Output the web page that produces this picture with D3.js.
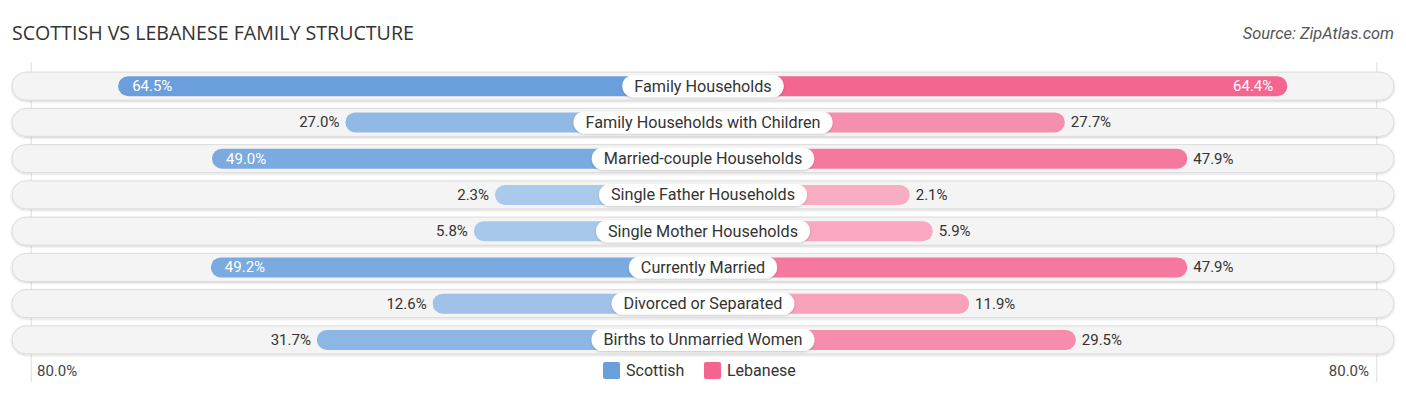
<!DOCTYPE html>
<html lang="en">
<head>
  <meta charset="utf-8">
  <title>Scottish vs Lebanese Family Structure</title>
  <script src="https://d3js.org/d3.v7.min.js"></script>
  <style>
    body {
      margin: 0;
      background: #fff;
      font-family: Roboto, "Noto Sans", Arial, sans-serif;
    }
    svg { display: block; }
  </style>
</head>
<body>
  <svg id="chart" width="1406" height="395"></svg>

  <script>
    // data
    const categories = [
      "Family Households",
      "Family Households with Children",
      "Married-couple Households",
      "Single Father Households",
      "Single Mother Households",
      "Currently Married",
      "Divorced or Separated",
      "Births to Unmarried Women"
    ];
    const scottish = [64.5, 27.0, 49.0, 2.3, 5.8, 49.2, 12.6, 31.7];
    const lebanese = [64.4, 27.7, 47.9, 2.1, 5.9, 47.9, 11.9, 29.5];
    const seriesNames = ["Scottish", "Lebanese"];
    const axisMax = 80;

    const W = 1406;
    const cx = 703;
    const gap = 194;         // half gap between the two zero points
    const pxPerUnit = 6.06;

    const svg = d3.select("#chart");

    // title + source
    svg.append("text")
      .attr("x", 12).attr("y", 40)
      .attr("font-family", "'Open Sans', sans-serif")
      .attr("font-size", 19.6)
      .attr("fill", "#333")
      .text("SCOTTISH VS LEBANESE FAMILY STRUCTURE");

    svg.append("text")
      .attr("x", 1394).attr("y", 39)
      .attr("text-anchor", "end")
      .attr("font-size", 16.4)
      .attr("font-style", "italic")
      .attr("fill", "#555")
      .text("Source: ZipAtlas.com");

    // scales
    const y = d3.scaleBand()
      .domain(categories)
      .range([68, 358])
      .paddingInner(0.0);

    const xLeft = d3.scaleLinear().domain([0, axisMax]).range([cx - gap, cx - gap - axisMax * pxPerUnit]);
    const xRight = d3.scaleLinear().domain([0, axisMax]).range([cx + gap, cx + gap + axisMax * pxPerUnit]);

    const blue = d3.scaleLinear().domain([0, 65]).range(["#adcbec", "#6a9fdc"]).clamp(true);
    const pink = d3.scaleLinear().domain([0, 65]).range(["#f8afc5", "#f46490"]).clamp(true);

    const defs = svg.append("defs");
    const f = defs.append("filter").attr("id", "shadow").attr("x", "-5%").attr("y", "-30%").attr("width", "110%").attr("height", "160%");
    f.append("feDropShadow").attr("dx", 0).attr("dy", 1).attr("stdDeviation", 1.2).attr("flood-color", "#000").attr("flood-opacity", 0.18);

    // gridlines at the 80% positions
    [xLeft(axisMax) + 7, xRight(axisMax) - 5].forEach(gx => {
      svg.append("line")
        .attr("x1", gx).attr("x2", gx)
        .attr("y1", 62).attr("y2", 382)
        .attr("stroke", "#ddd").attr("stroke-width", 1);
    });

    const rows = svg.selectAll("g.row")
      .data(categories)
      .join("g")
      .attr("class", "row")
      .attr("transform", d => `translate(0, ${y(d) + y.bandwidth() / 2})`);

    // background tracks
    rows.append("rect")
      .attr("x", 12).attr("y", -14)
      .attr("width", W - 24).attr("height", 28)
      .attr("rx", 14)
      .attr("fill", "#f4f4f4")
      .attr("stroke", "#dcdcdc")
      .attr("stroke-width", 1)
      .attr("filter", "url(#shadow)");

    const barH = 20;

    // left bars
    rows.append("rect")
      .attr("x", (d, i) => xLeft(scottish[i]))
      .attr("y", -barH / 2)
      .attr("width", (d, i) => cx - xLeft(scottish[i]))
      .attr("height", barH)
      .attr("rx", 10)
      .attr("fill", (d, i) => blue(scottish[i]));

    // right bars
    rows.append("rect")
      .attr("x", cx)
      .attr("y", -barH / 2)
      .attr("width", (d, i) => xRight(lebanese[i]) - cx)
      .attr("height", barH)
      .attr("rx", 10)
      .attr("fill", (d, i) => pink(lebanese[i]));

    const inside = v => v > 48.5;

    rows.append("text")
      .attr("x", (d, i) => inside(scottish[i]) ? xLeft(scottish[i]) + 14 : xLeft(scottish[i]) - 6)
      .attr("y", 5)
      .attr("text-anchor", (d, i) => inside(scottish[i]) ? "start" : "end")
      .attr("font-size", 15)
      .attr("fill", (d, i) => inside(scottish[i]) ? "#fff" : "#333")
      .text((d, i) => scottish[i].toFixed(1) + "%");

    rows.append("text")
      .attr("x", (d, i) => inside(lebanese[i]) ? xRight(lebanese[i]) - 14 : xRight(lebanese[i]) + 6)
      .attr("y", 5)
      .attr("text-anchor", (d, i) => inside(lebanese[i]) ? "end" : "start")
      .attr("font-size", 15)
      .attr("fill", (d, i) => inside(lebanese[i]) ? "#fff" : "#333")
      .text((d, i) => lebanese[i].toFixed(1) + "%");

    // centre labels in white pills
    rows.each(function(d) {
      const g = d3.select(this);
      const t = g.append("text")
        .attr("x", cx).attr("y", 5.5)
        .attr("text-anchor", "middle")
        .attr("font-size", 16.2)
        .attr("fill", "#333")
        .text(d);
      const w = t.node().getComputedTextLength() + 24;
      g.insert("rect", "text")
        .attr("x", cx - w / 2).attr("y", -11)
        .attr("width", w).attr("height", 22)
        .attr("rx", 11)
        .attr("fill", "#fff")
        .attr("filter", "url(#shadow)");
    });

    // axis end labels
    svg.append("text")
      .attr("x", 37).attr("y", 376)
      .attr("font-size", 15).attr("fill", "#444")
      .text(axisMax.toFixed(1) + "%");
    svg.append("text")
      .attr("x", 1369).attr("y", 376)
      .attr("text-anchor", "end")
      .attr("font-size", 15).attr("fill", "#444")
      .text(axisMax.toFixed(1) + "%");

    // legend
    const legend = svg.append("g").attr("transform", "translate(603, 362)");
    const legendColors = [blue(65), pink(65)];
    const lx = [0, 101];
    seriesNames.forEach((name, i) => {
      legend.append("rect")
        .attr("x", lx[i]).attr("y", 0)
        .attr("width", 17).attr("height", 17)
        .attr("rx", 2)
        .attr("fill", legendColors[i]);
      legend.append("text")
        .attr("x", lx[i] + 23).attr("y", 14)
        .attr("font-size", 16).attr("fill", "#333")
        .text(name);
    });
  </script>
</body>
</html>
